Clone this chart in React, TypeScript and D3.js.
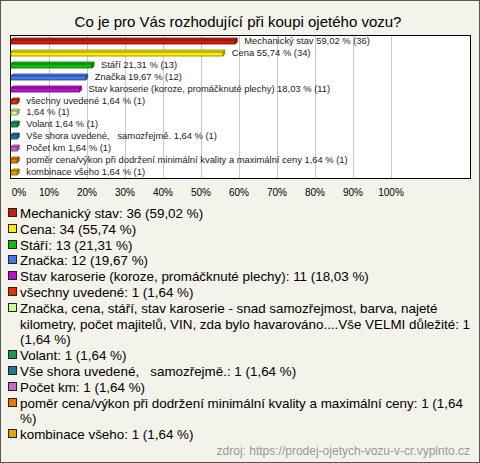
import React, { useEffect, useRef } from "react";
import * as d3 from "d3";

const title = "Co je pro Vás rozhodující při koupi ojetého vozu?";
const categories = [
  "Mechanický stav",
  "Cena",
  "Stáří",
  "Značka",
  "Stav karoserie (koroze, promáčknuté plechy)",
  "všechny uvedené",
  "Značka, cena, stáří, stav karoserie - snad samozřejmost, barva, najeté kilometry, počet majitelů, VIN, zda bylo havarováno....Vše VELMI důležité",
  "Volant",
  "Vše shora uvedené,   samozřejmě.",
  "Počet km",
  "poměr cena/výkon při dodržení minimální kvality a maximální ceny",
  "kombinace všeho",
];
const barNames = [
  "Mechanický stav",
  "Cena",
  "Stáří",
  "Značka",
  "Stav karoserie (koroze, promáčknuté plechy)",
  "všechny uvedené",
  "",
  "Volant",
  "Vše shora uvedené,   samozřejmě.",
  "Počet km",
  "poměr cena/výkon při dodržení minimální kvality a maximální ceny",
  "kombinace všeho",
];
const counts = [36, 34, 13, 12, 11, 1, 1, 1, 1, 1, 1, 1];
const percents = [59.02, 55.74, 21.31, 19.67, 18.03, 1.64, 1.64, 1.64, 1.64, 1.64, 1.64, 1.64];
const colors = [
  "#c8200e", "#ffea00", "#11bb11", "#4477ee", "#bb11cc", "#dd3300",
  "#ccff99", "#119955", "#227799", "#cc66cc", "#ee7700", "#ddaa00",
];
const ticks = [0, 10, 20, 30, 40, 50, 60, 70, 80, 90, 100];
const source = "zdroj: https://prodej-ojetych-vozu-v-cr.vyplnto.cz";

const W = 480;
const H = 463;
const FONT = "'Liberation Sans', Arial, sans-serif";
const LEG_FS = 13.4;
const fmt = (v: number) => v.toFixed(2).replace(".", ",");

function wrap(text: string, maxW: number, font: string): string[] {
  const c = document.createElement("canvas").getContext("2d")!;
  c.font = font;
  const words = text.split(" ");
  const lines: string[] = [];
  let cur: string | null = null;
  for (const w of words) {
    const t = cur === null ? w : cur + " " + w;
    if (c.measureText(t).width > maxW && cur !== null && w !== "") {
      lines.push(cur);
      cur = w;
    } else cur = t;
  }
  if (cur !== null) lines.push(cur);
  return lines;
}

export default function App() {
  const ref = useRef<SVGSVGElement>(null);
  useEffect(() => {
    const svg = d3.select(ref.current);
    svg.selectAll("*").remove();
    svg.append("rect").attr("x", 0.5).attr("y", 0.5).attr("width", W - 1).attr("height", H - 1)
      .attr("fill", "#f3f2eb").attr("stroke", "#555");
    svg.append("text").attr("x", 238).attr("y", 27).attr("text-anchor", "middle")
      .attr("font-family", FONT).attr("font-size", 15).attr("fill", "#000").text(title);

    const boxL = 10.5, boxR = 470.5, boxT = 35.5, boxB = 178.5;
    svg.append("rect").attr("x", boxL).attr("y", boxT).attr("width", boxR - boxL).attr("height", boxB - boxT)
      .attr("fill", "#fff");
    const x = d3.scaleLinear().domain([0, 100]).range([11, 391]);
    const y = d3.scaleBand<number>().domain(d3.range(categories.length)).range([35, 178]).padding(0);

    svg.append("g").selectAll("line").data(ticks.slice(1)).join("line")
      .attr("x1", (d) => Math.round(x(d)) + 0.5).attr("x2", (d) => Math.round(x(d)) + 0.5)
      .attr("y1", boxT).attr("y2", boxB).attr("stroke", "#c8c8c8");
    svg.append("rect").attr("x", boxL).attr("y", boxT).attr("width", boxR - boxL).attr("height", boxB - boxT)
      .attr("fill", "none").attr("stroke", "#000");

    const dd = 2;
    const g = svg.append("g");
    categories.forEach((_, i) => {
      const c = Math.round(y(i)! + y.bandwidth() / 2);
      const x0 = 11;
      const w = Math.max(x(percents[i]) - x0, 4);
      const top = c - 1;
      const h = 4;
      const col = colors[i];
      const stroke = d3.color(col)!.darker(1.8).formatHex();
      g.append("polygon")
        .attr("points", `${x0},${top} ${x0 + dd},${top - dd} ${x0 + w + dd},${top - dd} ${x0 + w},${top}`)
        .attr("fill", d3.color(col)!.brighter(0.4).formatHex()).attr("stroke", stroke).attr("stroke-width", 0.8);
      g.append("polygon")
        .attr("points", `${x0 + w},${top} ${x0 + w + dd},${top - dd} ${x0 + w + dd},${top + h - dd} ${x0 + w},${top + h}`)
        .attr("fill", d3.color(col)!.darker(0.6).formatHex()).attr("stroke", stroke).attr("stroke-width", 0.8);
      g.append("rect").attr("x", x0).attr("y", top).attr("width", w).attr("height", h)
        .attr("fill", col).attr("stroke", stroke).attr("stroke-width", 0.8);
      const label = (barNames[i] ? barNames[i] + " " : "") + fmt(percents[i]) + " % (" + counts[i] + ")";
      g.append("text").attr("x", x0 + w + dd + 7).attr("y", c + 3)
        .attr("font-family", FONT).attr("font-size", 9.4).attr("fill", "#222")
        .attr("xml:space", "preserve").style("white-space", "pre").text(label);
    });

    svg.append("g").selectAll("text").data(ticks).join("text")
      .attr("x", (d) => (d === 0 ? 19 : x(d))).attr("y", 196).attr("text-anchor", "middle")
      .attr("font-family", FONT).attr("font-size", 10).attr("fill", "#000").text((d) => d + "%");

    const lg = svg.append("g");
    let ly = 213;
    const LH = 15.8;
    categories.forEach((name, i) => {
      const txt = `${name}: ${counts[i]} (${fmt(percents[i])} %)`;
      const lines = wrap(txt, 452, `${LEG_FS}px ${FONT}`);
      lg.append("rect").attr("x", 8.5).attr("y", Math.round(ly) - 4.5).attr("width", 8).attr("height", 8)
        .attr("fill", colors[i]).attr("stroke", "#222");
      lines.forEach((ln, k) => {
        lg.append("text").attr("x", 20).attr("y", ly + 5 + k * LH)
          .attr("font-family", FONT).attr("font-size", LEG_FS).attr("fill", "#000")
          .attr("xml:space", "preserve").style("white-space", "pre").text(ln);
      });
      ly += LH * lines.length;
    });

    svg.append("text").attr("x", 470).attr("y", 455).attr("text-anchor", "end")
      .attr("font-family", FONT).attr("font-size", 12).attr("fill", "#999").text(source);
  }, []);
  return (
    <svg ref={ref} width={W} height={H} style={{ position: "absolute", left: 0, top: 0, display: "block" }} />
  );
}
